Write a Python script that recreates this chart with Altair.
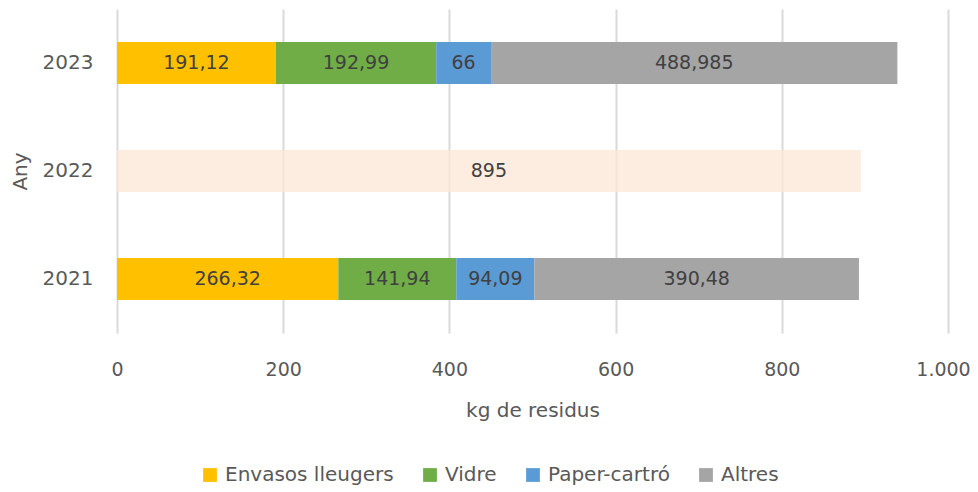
import altair as alt
import pandas as pd

years = ["2023", "2021"]
categories = ["Envasos lleugers", "Vidre", "Paper-cartró", "Altres"]
colors = ["#FFC000", "#70AD47", "#5B9BD5", "#A5A5A5"]
values_2023 = [191.12, 192.99, 66, 488.985]
labels_2023 = ["191,12", "192,99", "66", "488,985"]
values_2021 = [266.32, 141.94, 94.09, 390.48]
labels_2021 = ["266,32", "141,94", "94,09", "390,48"]
total_2022 = 895
label_2022 = "895"
year_order = ["2023", "2022", "2021"]
x_ticks = [0, 200, 400, 600, 800, 1000]

rows = []
for i, c in enumerate(categories):
    rows.append({"Any": "2023", "cat": c, "val": values_2023[i], "lab": labels_2023[i], "ord": i})
    rows.append({"Any": "2021", "cat": c, "val": values_2021[i], "lab": labels_2021[i], "ord": i})
df = pd.DataFrame(rows)
df2 = pd.DataFrame([{"Any": "2022", "val": total_2022, "lab": label_2022}])

FONT = "DejaVu Sans"

yenc = alt.Y("Any:N", sort=year_order, scale=alt.Scale(domain=year_order, paddingInner=0.61, paddingOuter=0.305),
             axis=alt.Axis(title="Any", labelFontSize=20, titleFontSize=20, labelColor="#595959",
                           titleColor="#595959", titleFontWeight="normal", ticks=False, domain=False,
                           labelPadding=24, titlePadding=12, labelFont=FONT, titleFont=FONT))
xscale = alt.Scale(domain=[0, 1000])
xaxis = alt.Axis(title="kg de residus", values=x_ticks,
                 labelExpr="replace(format(datum.value, ','), ',', '.')",
                 labelOffset={"condition": {"test": "datum.value == 1000", "value": -5}, "value": 0},
                 labelFontSize=19, titleFontSize=20, labelColor="#595959", titleColor="#595959",
                 titleFontWeight="normal", ticks=False, domain=False, gridColor="#d9d9d9", gridWidth=2,
                 labelFlush=False, labelPadding=27, titlePadding=21, labelFont=FONT, titleFont=FONT)

bars = alt.Chart(df).mark_bar().encode(
    y=yenc,
    x=alt.X("sum(val):Q", stack="zero", scale=xscale, axis=xaxis),
    color=alt.Color("cat:N", scale=alt.Scale(domain=categories, range=colors),
                    legend=alt.Legend(title=None, orient="none", direction="horizontal", legendX=83, legendY=456,
                                      symbolType="square", symbolSize=190, symbolStrokeWidth=0,
                                      labelFontSize=20, labelColor="#595959", labelFont=FONT, labelLimit=400,
                                      columnPadding=26, labelOffset=5)),
    order=alt.Order("ord:Q"),
)

text = alt.Chart(df).mark_text(fontSize=19, color="#404040", font=FONT).encode(
    y=alt.Y("Any:N", sort=year_order),
    x=alt.X("mid:Q", scale=xscale),
    text="lab:N",
).transform_window(
    cum="sum(val)", groupby=["Any"], sort=[alt.SortField("ord")], frame=[None, 0]
).transform_calculate(mid="datum.cum - datum.val/2")

bar22 = alt.Chart(df2).mark_bar(color="#FCE6D6", opacity=0.75).encode(
    y=alt.Y("Any:N", sort=year_order),
    x=alt.X("val:Q", scale=xscale),
)
text22 = alt.Chart(df2).transform_calculate(mid="datum.val/2").mark_text(fontSize=19, color="#404040", font=FONT).encode(
    y=alt.Y("Any:N", sort=year_order),
    x=alt.X("mid:Q", scale=xscale),
    text="lab:N",
)

chart = alt.layer(bars, bar22, text, text22).properties(
    width=831, height=324,
    autosize=alt.AutoSizeParams(type="none"),
    padding={"left": 109, "top": 1, "right": 22, "bottom": 157},
).configure_view(stroke=None)

chart.save("out.html", embed_options={"renderer": "svg", "actions": False})
